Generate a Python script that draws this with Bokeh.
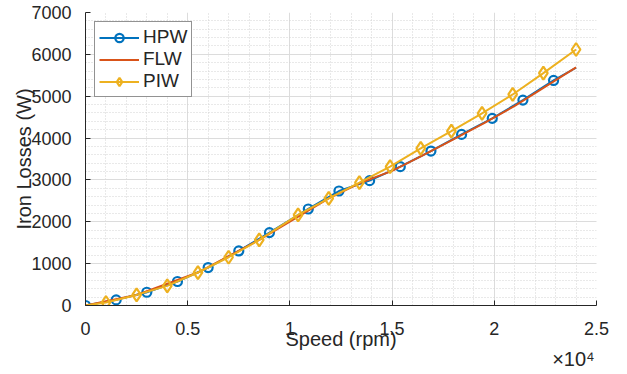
from bokeh.plotting import figure
from bokeh.models import SingleIntervalTicker, FixedTicker, LinearAxis, Range1d
from bokeh.embed import file_html
from bokeh.resources import INLINE

# ---- data ----
hpw_speed = [0, 1500, 3000, 4500, 6000, 7500, 9000, 10900, 12400, 13900, 15400, 16900, 18400, 19900, 21400, 22900, 24000]
hpw_loss = [0, 134, 317, 573, 907, 1303, 1742, 2306, 2735, 2983, 3317, 3690, 4088, 4470, 4907, 5377, 5680]
hpw_marker_idx = list(range(16))

flw_speed = [0, 2500, 5500, 8500, 11900, 13400, 15000, 16500, 18000, 19500, 21000, 22500, 24000]
flw_loss = [0, 253, 788, 1566, 2561, 2920, 3215, 3585, 3970, 4355, 4770, 5230, 5687]

piw_speed = [0, 1000, 2500, 4000, 5500, 7000, 8500, 10400, 11900, 13400, 14900, 16400, 17900, 19400, 20900, 22400, 24000]
piw_loss = [0, 72, 253, 468, 788, 1153, 1566, 2163, 2561, 2936, 3317, 3754, 4167, 4589, 5042, 5551, 6116]
piw_marker_idx = list(range(1, 17))

x_tick_values = [0, 5000, 10000, 15000, 20000, 25000]
x_tick_labels = ["0", "0.5", "1", "1.5", "2", "2.5"]
x_exponent_label = "\u00d710\u2074"

BLUE = "#0072BD"
RED = "#D95319"
YEL = "#EDB120"
TXT = "#262626"
FONT = "Liberation Sans"

p = figure(width=620, height=372, output_backend="svg", toolbar_location=None,
           x_range=Range1d(0, 25000), y_range=Range1d(0, 7000),
           min_border_left=85, min_border_right=24, min_border_top=12, min_border_bottom=62)
p.outline_line_color = None
p.background_fill_color = "white"

# axes
p.xaxis.ticker = SingleIntervalTicker(interval=5000, num_minor_ticks=5)
p.yaxis.ticker = SingleIntervalTicker(interval=1000, num_minor_ticks=5)
p.xaxis.major_label_overrides = {v: l for v, l in zip(x_tick_values, x_tick_labels)}
for ax in (p.xaxis[0], p.yaxis[0]):
    ax.axis_line_color = TXT
    ax.axis_line_width = 1
    ax.major_tick_in = 5
    ax.major_tick_out = 0
    ax.major_tick_line_color = TXT
    ax.minor_tick_line_color = None
    ax.major_label_text_font = FONT
    ax.major_label_text_font_size = "18px"
    ax.major_label_text_color = TXT
    ax.axis_label_text_font = FONT
    ax.axis_label_text_font_size = "20px"
    ax.axis_label_text_font_style = "normal"
    ax.axis_label_text_color = TXT
p.xaxis.axis_label = "Speed (rpm)"
p.yaxis.axis_label = "Iron Losses (W)"
p.xaxis.major_label_standoff = 12
p.yaxis.major_label_standoff = 10
p.xaxis.axis_label_standoff = -10
p.yaxis.axis_label_standoff = -7

# exponent text, drawn as the only label of a bare extra axis below the x axis
exp_axis = LinearAxis(ticker=FixedTicker(ticks=[23870]),
                      major_label_overrides={23870: x_exponent_label},
                      axis_line_color=None, major_tick_line_color=None,
                      minor_tick_line_color=None, major_label_standoff=-11,
                      major_label_text_font=FONT, major_label_text_font_size="20px",
                      major_label_text_color=TXT)
p.add_layout(exp_axis, "below")

# grids
for g in (p.xgrid[0], p.ygrid[0]):
    g.grid_line_color = "#dcdcdc"
    g.grid_line_width = 1
    g.minor_grid_line_color = "#d2d2d2"
    g.minor_grid_line_dash = "1 2"
    g.minor_grid_line_width = 1

# series
p.line(hpw_speed, hpw_loss, line_color=BLUE, line_width=2, legend_label="HPW")
p.scatter([hpw_speed[i] for i in hpw_marker_idx], [hpw_loss[i] for i in hpw_marker_idx],
          marker="circle", size=9, line_color=BLUE, line_width=2.2, fill_color=None, legend_label="HPW")

p.line(flw_speed, flw_loss, line_color=RED, line_width=2, legend_label="FLW")

p.line(piw_speed, piw_loss, line_color=YEL, line_width=2, legend_label="PIW")
p.scatter([piw_speed[i] for i in piw_marker_idx], [piw_loss[i] for i in piw_marker_idx],
          marker="diamond", size=13, line_color=YEL, line_width=2.2, fill_color=None, legend_label="PIW")

# legend
lg = p.legend[0]
lg.location = "top_left"
lg.margin = 9
lg.padding = 4
lg.spacing = 0
lg.glyph_width = 40
lg.glyph_height = 21
lg.label_height = 21
lg.label_standoff = 4
lg.label_text_font = FONT
lg.label_text_font_size = "19px"
lg.label_text_color = TXT
lg.border_line_color = TXT
lg.border_line_width = 1
lg.background_fill_alpha = 1

open("out.html", "w").write(file_html(p, INLINE))
